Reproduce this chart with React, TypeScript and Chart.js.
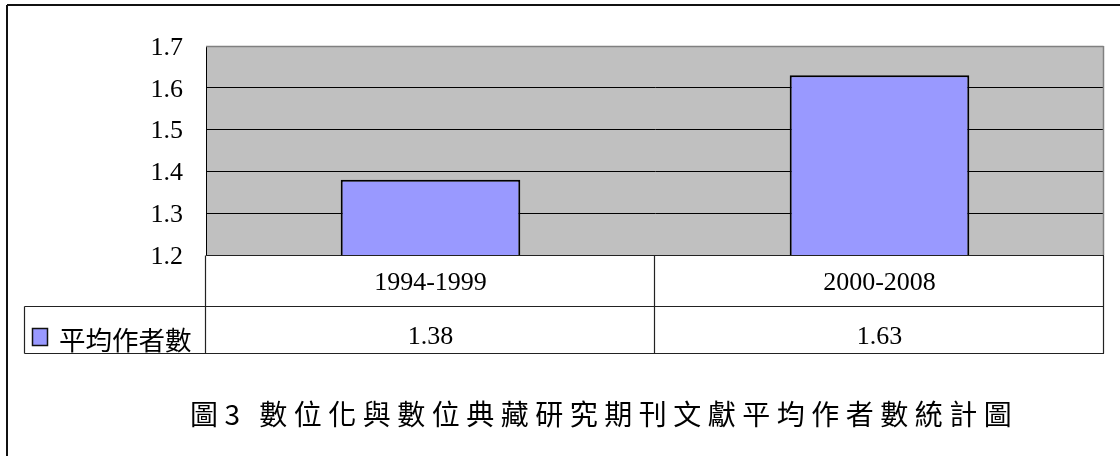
import { useEffect, useRef } from "react";
import { Chart, registerables } from "chart.js";

Chart.register(...registerables);

const categories = ["1994-1999", "2000-2008"];
const seriesLabel = "平均作者數";
const seriesValues = [1.38, 1.63];
const yTicks = [1.2, 1.3, 1.4, 1.5, 1.6, 1.7];
const caption = "圖3 數位化與數位典藏研究期刊文獻平均作者數統計圖";

const SERIF = '"Liberation Serif", "Times New Roman", serif';
const CJK = '"Noto Sans CJK TC", "Noto Sans CJK SC", sans-serif';
const BAR_COLOR = "#9999FF";

function line(ctx: CanvasRenderingContext2D, x1: number, y1: number, x2: number, y2: number) {
  ctx.beginPath();
  ctx.moveTo(x1, y1);
  ctx.lineTo(x2, y2);
  ctx.stroke();
}

export default function App() {
  const ref = useRef<HTMLCanvasElement>(null);

  useEffect(() => {
    const canvas = ref.current!;

    const plotBg = {
      id: "plotBg",
      beforeDraw(chart: any) {
        const { ctx, chartArea: a } = chart;
        ctx.save();
        ctx.fillStyle = "#ffffff";
        ctx.fillRect(0, 0, chart.width, chart.height);
        ctx.fillStyle = "#C0C0C0";
        ctx.fillRect(a.left, a.top, a.right - a.left, a.bottom - a.top);
        ctx.restore();
      },
      beforeDatasetsDraw(chart: any) {
        const { ctx, chartArea: a } = chart;
        ctx.save();
        ctx.strokeStyle = "#808080";
        ctx.lineWidth = 1.5;
        line(ctx, a.left, a.top + 0.5, a.right - 0.5, a.top + 0.5);
        line(ctx, a.right - 0.5, a.top, a.right - 0.5, a.bottom);
        ctx.restore();
      },
    };

    const dataTable = {
      id: "dataTable",
      afterDraw(chart: any) {
        const { ctx, chartArea: a } = chart;
        const xs = chart.scales.x;
        const ds = chart.data.datasets[0];
        const n = categories.length;
        const cw = (a.right - a.left) / n;
        const top = Math.round(a.bottom) + 0.5;
        const r1 = top + 51;
        const r2 = r1 + 47;
        const legendLeft = 24.5;

        ctx.save();
        ctx.strokeStyle = "#222";
        ctx.lineWidth = 1.2;
        line(ctx, a.left, top, a.right, top);
        line(ctx, legendLeft, r1, a.right, r1);
        line(ctx, legendLeft, r2, a.right, r2);
        line(ctx, legendLeft, r1, legendLeft, r2);
        for (let i = 0; i <= n; i++) {
          const x = Math.round(a.left + i * cw) - 0.5;
          line(ctx, x, top, x, r2);
        }

        ctx.fillStyle = "#000";
        ctx.textAlign = "center";
        ctx.textBaseline = "middle";
        ctx.font = `26px ${SERIF}`;
        categories.forEach((c, i) => {
          ctx.fillText(c, xs.getPixelForValue(i), top + 28);
        });
        (ds.data as number[]).forEach((v, i) => {
          ctx.fillText(v.toFixed(2), xs.getPixelForValue(i), r1 + 31);
        });

        // legend key
        ctx.fillStyle = ds.backgroundColor;
        ctx.fillRect(32, 328, 16, 18);
        ctx.strokeStyle = "#111";
        ctx.lineWidth = 1.5;
        ctx.strokeRect(32.5, 328.5, 15, 17);
        ctx.fillStyle = "#000";
        ctx.textAlign = "left";
        ctx.font = `26.5px ${CJK}`;
        ctx.fillText(ds.label, 59, r1 + 33);

        // caption
        ctx.font = `28px ${CJK}`;
        const spacing = 6.5;
        let x = 190;
        for (const ch of caption) {
          ctx.fillText(ch, x, 414);
          x += ctx.measureText(ch).width + spacing;
        }

        // outer frame
        ctx.strokeStyle = "#111";
        ctx.lineWidth = 2;
        line(ctx, 7, 5, chart.width + 5, 5);
        line(ctx, 7, 5, 7, chart.height + 5);
        ctx.restore();
      },
    };

    const chart = new Chart(canvas, {
      type: "bar",
      data: {
        labels: categories,
        datasets: [
          {
            label: seriesLabel,
            data: seriesValues,
            backgroundColor: BAR_COLOR,
            borderColor: "#000",
            borderWidth: 2,
            borderSkipped: false,
            barPercentage: 1,
            categoryPercentage: 0.4,
          },
        ],
      },
      options: {
        animation: false,
        responsive: false,
        devicePixelRatio: 1,
        layout: { padding: { top: 46, right: 16, bottom: 201, left: 0 } },
        plugins: {
          legend: { display: false },
          tooltip: { enabled: false },
          title: { display: false },
        },
        scales: {
          x: { display: false },
          y: {
            min: 1.2,
            max: 1.7,
            afterFit: (s: any) => {
              s.width = 206;
            },
            afterBuildTicks: (s: any) => {
              s.ticks = yTicks.map((v) => ({ value: v }));
            },
            ticks: {
              callback: (v: any) => Number(v).toFixed(1),
              font: { family: SERIF, size: 26 },
              color: "#000",
              padding: 23,
              labelOffset: 2,
            },
            grid: {
              color: (c: any) =>
                c.tick && Math.abs(c.tick.value - 1.7) < 1e-6 ? "#808080" : "#000",
              drawTicks: false,
              lineWidth: 1,
            },
            border: { color: "#000", width: 1 },
          },
        },
      } as any,
      plugins: [plotBg, dataTable],
    });
    return () => chart.destroy();
  }, []);

  return (
    <div style={{ position: "fixed", left: 0, top: 0, width: 1120, height: 456, background: "#fff" }}>
      <canvas ref={ref} width={1120} height={456} style={{ display: "block", width: 1120, height: 456 }} />
    </div>
  );
}
